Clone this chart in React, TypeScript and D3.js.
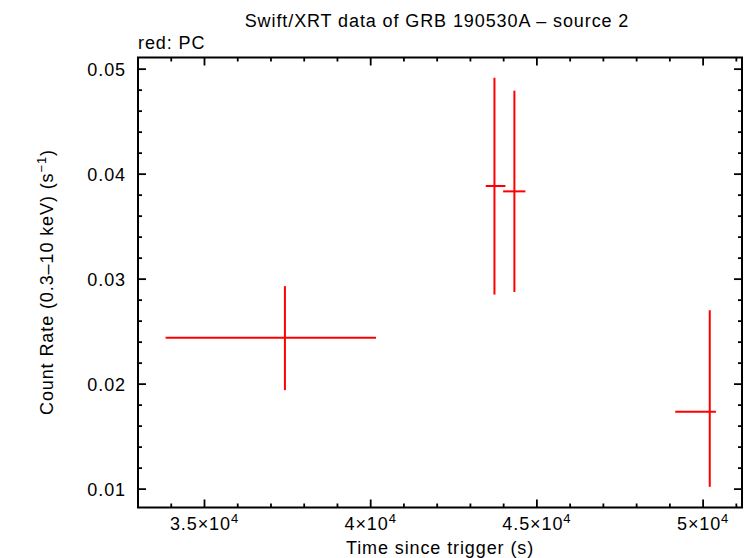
import React from "react";
import * as d3 from "d3";

const timeCenter = [37420, 43723, 44323, 50200];
const timeLow = [33830, 43461, 43984, 49161];
const timeHigh = [40160, 44053, 44654, 50384];
const rate = [0.02442, 0.03887, 0.03836, 0.01736];
const rateLow = [0.01943, 0.02853, 0.02878, 0.01022];
const rateHigh = [0.02933, 0.04918, 0.04795, 0.02704];

const xMajor = [35000, 40000, 45000, 50000];
const xMajorLabels = ["3.5", "4", "4.5", "5"];
const yMajor = [0.01, 0.02, 0.03, 0.04, 0.05];
const yMajorLabels = ["0.01", "0.02", "0.03", "0.04", "0.05"];

const W = 746, H = 558;
const L = 138, R = 742, T = 57.5, B = 507.5;

export default function App() {
  const x = d3.scaleLinear().domain([33000, 51170]).range([L, R]);
  const y = d3.scaleLinear().domain([0.00825, 0.05111]).range([B, T]);
  const xMinor = d3.range(34000, 51170, 1000).filter((v) => v % 5000 !== 0);
  const yMinor = d3.range(0.01, 0.0511, 0.002).map((v) => +v.toFixed(3)).filter((v) => Math.abs(v * 100 - Math.round(v * 100)) > 1e-6);
  const font = "'Liberation Sans', Arial, sans-serif";
  const red = "#ff0000";
  const ls = 0.9;
  return (
    <svg width={W} height={H} style={{ position: "absolute", left: 0, top: 0, background: "#fff" }} fontFamily={font}>
      <rect x={0} y={0} width={W} height={H} fill="#fff" />
      <text x={437} y={27} fontSize={18} letterSpacing={ls} textAnchor="middle">Swift/XRT data of GRB 190530A – source 2</text>
      <text x={138} y={49} fontSize={18} letterSpacing={ls}>red: PC</text>
      <g stroke="#000" strokeWidth={1.8}>
        {xMajor.map((v) => (
          <g key={"xm" + v}>
            <line x1={x(v)} x2={x(v)} y1={B} y2={B - 8} />
            <line x1={x(v)} x2={x(v)} y1={T} y2={T + 8} />
          </g>
        ))}
        {xMinor.map((v) => (
          <g key={"xn" + v}>
            <line x1={x(v)} x2={x(v)} y1={B} y2={B - 4} />
            <line x1={x(v)} x2={x(v)} y1={T} y2={T + 4} />
          </g>
        ))}
        {yMajor.map((v) => (
          <g key={"ym" + v}>
            <line x1={L} x2={L + 8} y1={y(v)} y2={y(v)} />
            <line x1={R} x2={R - 8} y1={y(v)} y2={y(v)} />
          </g>
        ))}
        {yMinor.map((v) => (
          <g key={"yn" + v}>
            <line x1={L} x2={L + 4} y1={y(v)} y2={y(v)} />
            <line x1={R} x2={R - 4} y1={y(v)} y2={y(v)} />
          </g>
        ))}
        <rect x={L} y={T} width={R - L} height={B - T} fill="none" strokeWidth={2} />
      </g>
      {xMajor.map((v, i) => (
        <text key={"xl" + v} x={x(v)} y={530} fontSize={18} letterSpacing={ls} textAnchor="middle">
          {xMajorLabels[i]}×10<tspan dy={-7} fontSize={13}>4</tspan>
        </text>
      ))}
      {yMajor.map((v, i) => (
        <text key={"yl" + v} x={126} y={y(v) + 6.5} fontSize={18} letterSpacing={ls} textAnchor="end">{yMajorLabels[i]}</text>
      ))}
      <text x={440} y={554} fontSize={18} letterSpacing={ls} textAnchor="middle">Time since trigger (s)</text>
      <text transform="translate(53,282) rotate(-90)" fontSize={18} letterSpacing={ls} textAnchor="middle">
        Count Rate (0.3–10 keV) (s<tspan dy={-7} fontSize={13}>−1</tspan><tspan dy={7}>)</tspan>
      </text>
      <g stroke={red} strokeWidth={2}>
        {timeCenter.map((t, i) => (
          <g key={"p" + i}>
            <line x1={x(timeLow[i])} x2={x(timeHigh[i])} y1={y(rate[i])} y2={y(rate[i])} />
            <line x1={x(t)} x2={x(t)} y1={y(rateLow[i])} y2={y(rateHigh[i])} />
          </g>
        ))}
      </g>
    </svg>
  );
}
